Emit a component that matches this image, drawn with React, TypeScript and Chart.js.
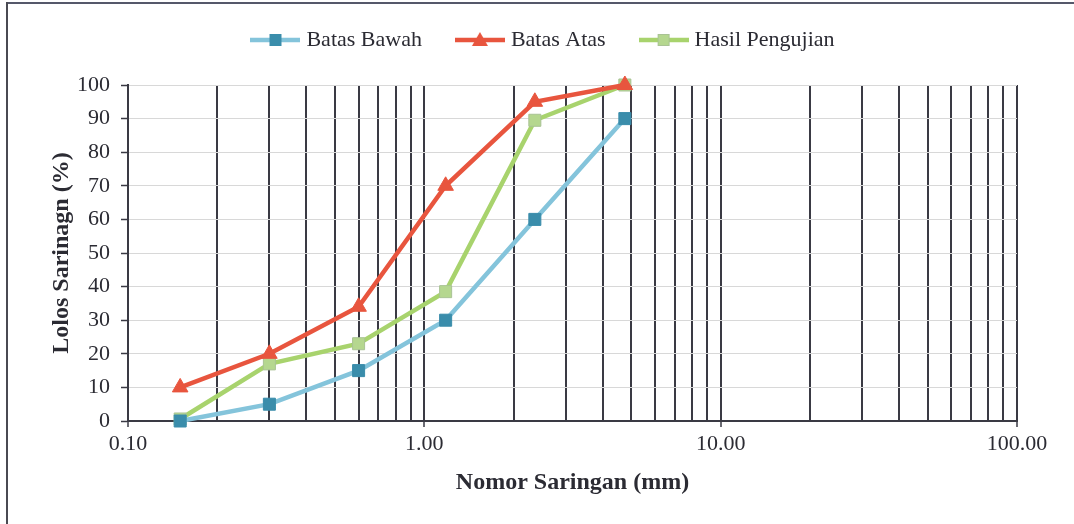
import React, { useEffect, useRef } from 'react';
import { Chart, registerables } from 'chart.js';

Chart.register(...registerables);

// ---- data ----
const SIEVE_SIZES = [0.15, 0.3, 0.6, 1.18, 2.36, 4.75];
const BATAS_BAWAH = [0, 5, 15, 30, 60, 90];
const BATAS_ATAS = [10, 20, 34, 70, 95, 100];
const HASIL_PENGUJIAN = [0.6, 17, 23, 38.5, 89.5, 100];

const X_LABEL_VALUES = [0.1, 1, 10, 100];
const X_MULTIPLES = [1, 2, 3, 4, 5, 6, 7, 8, 9];
const Y_MIN = 0;
const Y_MAX = 100;
const Y_STEP = 10;

const X_TITLE = 'Nomor Saringan (mm)';
const Y_TITLE = 'Lolos Sarinagn (%)';

const FONT = "'Liberation Serif', 'Times New Roman', serif";
const TEXT = '#2b2b33';
const DARK = '#3a3a44';

const SERIES = [
  { label: 'Batas Bawah', values: BATAS_BAWAH, line: '#84c4db', marker: '#3a8dab', markerBorder: '#3a8dab', style: 'rect' },
  { label: 'Batas Atas', values: BATAS_ATAS, line: '#e8553e', marker: '#e8553e', markerBorder: '#e8553e', style: 'triangle' },
  { label: 'Hasil Pengujian', values: HASIL_PENGUJIAN, line: '#a8d36d', marker: '#b5d78f', markerBorder: '#a9c394', style: 'rect' },
];

function legendImage(s: any): HTMLCanvasElement {
  const c = document.createElement('canvas');
  c.width = 50;
  c.height = 20;
  const g = c.getContext('2d')!;
  g.strokeStyle = s.line;
  g.lineWidth = 4.5;
  g.beginPath();
  g.moveTo(0, 10);
  g.lineTo(50, 10);
  g.stroke();
  g.fillStyle = s.marker;
  g.strokeStyle = s.markerBorder;
  g.lineWidth = 1;
  if (s.style === 'rect') {
    g.fillRect(19, 4, 12, 12);
    g.strokeRect(19.5, 4.5, 11, 11);
  } else {
    g.beginPath();
    g.moveTo(25, 2);
    g.lineTo(33, 16);
    g.lineTo(17, 16);
    g.closePath();
    g.fill();
  }
  return c;
}

export default function App() {
  const ref = useRef<HTMLCanvasElement>(null);

  useEffect(() => {
    if (!ref.current) return;
    const images = SERIES.map(legendImage);
    const gridValues: number[] = [];
    X_LABEL_VALUES.slice(0, -1).forEach((d) =>
      X_MULTIPLES.forEach((m) => gridValues.push(parseFloat((d * m).toPrecision(6))))
    );
    gridValues.push(X_LABEL_VALUES[X_LABEL_VALUES.length - 1]);

    const chart = new Chart(ref.current, {
      type: 'line',
      data: {
        datasets: SERIES.map((s) => ({
          label: s.label,
          data: SIEVE_SIZES.map((x, i) => ({ x, y: s.values[i] })),
          borderColor: s.line,
          backgroundColor: s.marker,
          borderWidth: 4.5,
          pointStyle: s.style as any,
          pointRadius: s.style === 'rect' ? 8.5 : 9,
          pointBackgroundColor: s.marker,
          pointBorderColor: s.markerBorder,
          pointBorderWidth: 1,
          tension: 0,
          clip: false as any,
        })),
      },
      options: {
        responsive: false,
        animation: false,
        layout: { padding: { top: -9, left: 73, right: 57, bottom: 0 } },
        plugins: {
          tooltip: { enabled: false },
          legend: {
            position: 'top',
            labels: {
              usePointStyle: true,
              pointStyleWidth: 40,
              padding: 38,
              color: TEXT,
              font: { family: FONT, size: 22 },
              generateLabels: (ch: any) => {
                const items = Chart.defaults.plugins.legend.labels.generateLabels(ch);
                return items.map((it: any, i: number) => ({ ...it, pointStyle: images[i] }));
              },
            },
          },
        },
        scales: {
          x: {
            type: 'logarithmic',
            position: 'bottom',
            min: X_LABEL_VALUES[0],
            max: X_LABEL_VALUES[X_LABEL_VALUES.length - 1],
            afterBuildTicks: (s: any) => {
              s.ticks = gridValues.map((v) => ({ value: v, major: X_LABEL_VALUES.includes(v) }));
            },
            afterFit: (s: any) => {
              s.height = 103;
            },
            grid: {
              color: DARK,
              lineWidth: 2,
              tickLength: 6,
              tickWidth: 1.5,
              tickColor: (c: any) => (c.tick && c.tick.major ? DARK : 'rgba(0,0,0,0)'),
            },
            border: { color: DARK, width: 2 },
            ticks: {
              autoSkip: false,
              maxRotation: 0,
              padding: 4,
              color: TEXT,
              font: { family: FONT, size: 22 },
              callback: (v: any) => (X_LABEL_VALUES.includes(Number(v)) ? Number(v).toFixed(2) : ''),
            },
            title: {
              display: true,
              text: X_TITLE,
              color: TEXT,
              font: { family: FONT, size: 24, weight: 'bold' },
              padding: { top: 0, bottom: 27 },
            },
          },
          xTop: {
            type: 'linear',
            position: 'top',
            display: true,
            ticks: { display: false },
            grid: { display: false, drawTicks: false },
            border: { display: false },
            afterFit: (s: any) => {
              s.height = 24;
            },
          },
          y: {
            min: Y_MIN,
            max: Y_MAX,
            afterFit: (s: any) => {
              s.width = 55;
            },
            grid: { color: '#d8d8d8', lineWidth: 1, tickLength: 7, tickColor: DARK, tickWidth: 1.5 },
            border: { color: DARK, width: 2 },
            ticks: {
              stepSize: Y_STEP,
              padding: 11,
              color: TEXT,
              font: { family: FONT, size: 22 },
            },
            title: {
              display: true,
              text: Y_TITLE,
              color: TEXT,
              font: { family: FONT, size: 24, weight: 'bold' },
              padding: { top: -25.4, bottom: 0 },
            },
          },
        },
      } as any,
    });
    return () => chart.destroy();
  }, []);

  return (
    <div style={{ position: 'absolute', left: 0, top: 0, width: 1074, height: 524, background: '#fff' }}>
      <canvas ref={ref} width={1074} height={524} style={{ position: 'absolute', left: 0, top: 0, display: 'block' }} />
      <div style={{ position: 'absolute', left: 6, top: 2, width: 1068, height: 2, background: '#55586a' }} />
      <div style={{ position: 'absolute', left: 6, top: 2, width: 2, height: 522, background: '#4a4a52' }} />
    </div>
  );
}
